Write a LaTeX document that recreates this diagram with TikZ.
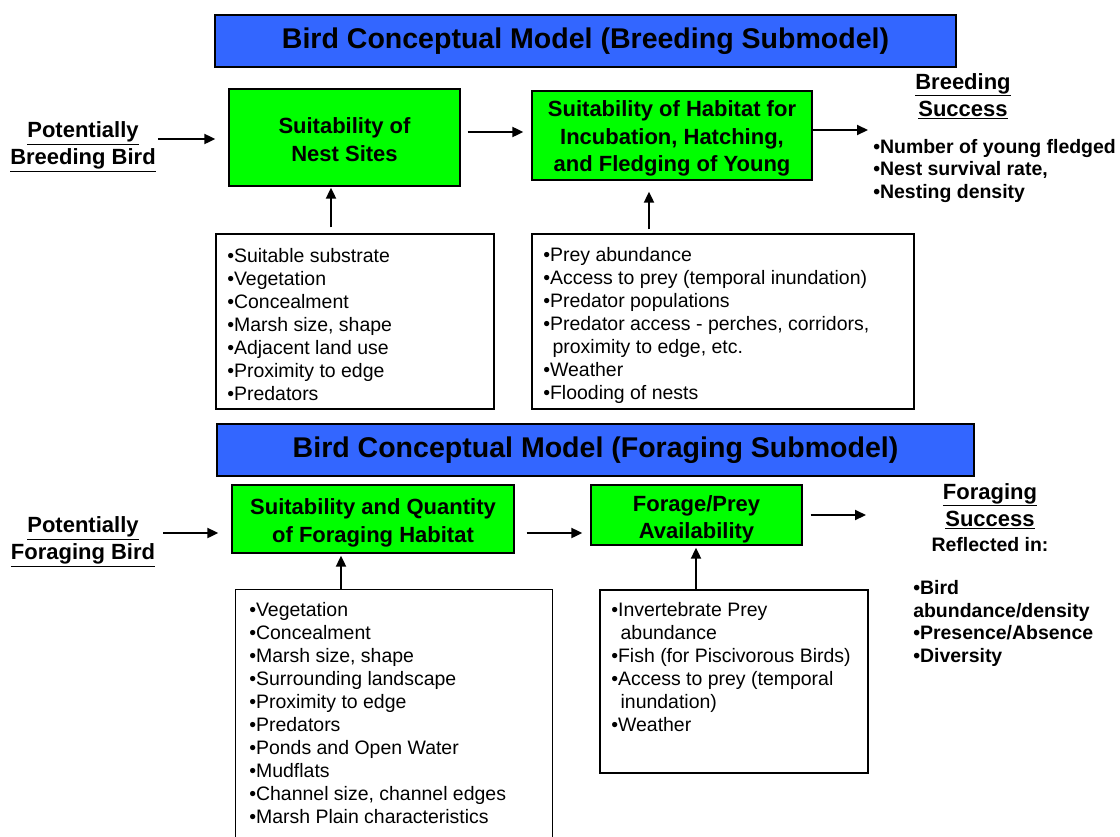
\documentclass[tikz,border=0pt]{standalone}
\usepackage{fontspec}
\setmainfont{Liberation Sans}
\usetikzlibrary{arrows.meta,fit}
\definecolor{titleblue}{HTML}{3366FF}
\definecolor{boxgreen}{HTML}{00FF00}
\newcommand\fsz[2]{\fontsize{#1}{#2}\selectfont}
\tikzset{
 titlebox/.style={draw=black, line width=0.8pt, fill=titleblue, inner sep=0pt, minimum height=39pt, font=\fsz{21.4pt}{25pt}\bfseries},
 greenbox/.style={draw=black, line width=1pt, fill=boxgreen, inner sep=0pt},
 greentext/.style={inner sep=0pt, align=center, font=\fsz{16.5pt}{20.5pt}\bfseries},
 listbox/.style={draw=black, line width=0.9pt, inner sep=0pt},
 listedge/.style={draw=black, line width=0.9pt},
 listtext/.style={anchor=north west, inner sep=0pt, align=left, font=\fsz{14.6pt}{17.25pt}},
 head/.style={inner sep=0pt, align=center, font=\fsz{16.5pt}{20.25pt}\bfseries},
 result/.style={anchor=north west, inner sep=0pt, align=left, font=\fsz{14.6pt}{16.8pt}\bfseries},
 arr/.style={line width=1.5pt, -{Triangle[length=8.25pt,width=7.5pt]}},
}
\begin{document}
\begin{tikzpicture}[x=0.75pt,y=-0.75pt]
\useasboundingbox (0,0) rectangle (1120,836);

% ---------------- Breeding submodel ----------------
\node[titlebox, minimum width=555.75pt] (t1) at (585.5,41) {Bird Conceptual Model (Breeding Submodel)};

\node[head] (pbb) at (83,147) {\underline{Potentially}\\\underline{Breeding Bird}};

\node[greenbox, minimum width=173.25pt, minimum height=72.75pt] (box1) at (344.5,137.5) {};
\node[greentext] (box1t) at (344.5,139.5) {Suitability of\\Nest Sites};
\node[greenbox, minimum width=210pt, minimum height=66.75pt] (box2) at (672,135.5) {};
\node[greentext] (box2t) at (672,138.5) {Suitability of Habitat for\\Incubation, Hatching,\\and Fledging of Young};

\node[head] (bsh) at (963,96) {\underline{Breeding}\\\underline{Success}};
\node[result] (bres) at (873,139) {•Number of young fledged\\•Nest survival rate,\\•Nesting density};
\coordinate (bend) at (868,130);

\node[listbox, fit={(216,234) (494,409)}] (boxA) {};
\node[listtext] (txtA) at (227,248) {•Suitable substrate\\•Vegetation\\•Concealment\\•Marsh size, shape\\•Adjacent land use\\•Proximity to edge\\•Predators};

\node[listbox, fit={(532,234) (914,409)}] (boxB) {};
\node[listtext] (txtB) at (543,247) {•Prey abundance\\•Access to prey (temporal inundation)\\•Predator populations\\•Predator access - perches, corridors,\\\hspace*{7pt}proximity to edge, etc.\\•Weather\\•Flooding of nests};

\draw[arr, shorten <=1.5pt, shorten >=9.75pt] (pbb.east |- 0,139) -- (box1.west |- 0,139);
\draw[arr, shorten <=5.25pt, shorten >=6pt] (box1.east |- 0,132) -- (box2.west |- 0,132);
\draw[arr] (box2.east |- bend) -- (bend);
\draw[arr, shorten <=4.5pt, shorten >=0.75pt] (331,0 |- boxA.north) -- (331,0 |- box1.south);
\draw[arr, shorten <=3pt, shorten >=8.25pt] (649,0 |- boxB.north) -- (649,0 |- box2.south);

% ---------------- Foraging submodel ----------------
\node[titlebox, minimum width=567.75pt] (t2) at (595.5,450) {Bird Conceptual Model (Foraging Submodel)};

\node[head] (pfb) at (83,542) {\underline{Potentially}\\\underline{Foraging Bird}};

\node[greenbox, minimum width=211.5pt, minimum height=51pt] (boxC) at (373,519) {};
\node[greentext] (boxCt) at (373,523) {Suitability and Quantity\\of Foraging Habitat};
\node[greenbox, minimum width=158.25pt, minimum height=45pt] (boxD) at (696.5,515) {};
\node[greentext] (boxDt) at (696.5,519) {Forage/Prey\\Availability};

\node[head] (fsh) at (990,506) {\underline{Foraging}\\\underline{Success}};
\node[head, font=\fsz{14.6pt}{17pt}\bfseries] (refl) at (990,545) {Reflected in:};
\node[result, font=\fsz{14.6pt}{17pt}\bfseries] (fres) at (913,580) {•Bird\\abundance/density\\•Presence/Absence\\•Diversity};
\coordinate (fend) at (866,515);

\node[inner sep=0pt, fit={(236,590) (552,850)}] (boxE) {};
\draw[listedge] (boxE.south west) -- (boxE.north west) -- (boxE.north east) -- (boxE.south east);
\node[listtext] (txtE) at (249,602) {•Vegetation\\•Concealment\\•Marsh size, shape\\•Surrounding landscape\\•Proximity to edge\\•Predators\\•Ponds and Open Water\\•Mudflats\\•Channel size, channel edges\\•Marsh Plain characteristics};

\node[listbox, fit={(600,590) (868,773)}] (boxF) {};
\node[listtext] (txtF) at (611,602) {•Invertebrate Prey\\\hspace*{7pt}abundance\\•Fish (for Piscivorous Birds)\\•Access to prey (temporal\\\hspace*{7pt}inundation)\\•Weather};

\draw[arr, shorten <=6pt, shorten >=9.75pt] (pfb.east |- 0,533) -- (boxC.west |- 0,533);
\draw[arr, shorten <=9pt, shorten >=6pt] (boxC.east |- 0,533) -- (boxD.west |- 0,533);
\draw[arr, shorten <=6pt] (boxD.east |- fend) -- (fend);
\draw[arr, shorten >=1.5pt] (341,0 |- boxE.north) -- (341,0 |- boxC.south);
\draw[arr, shorten >=1.5pt] (696,0 |- boxF.north) -- (696,0 |- boxD.south);
\end{tikzpicture}
\end{document}
